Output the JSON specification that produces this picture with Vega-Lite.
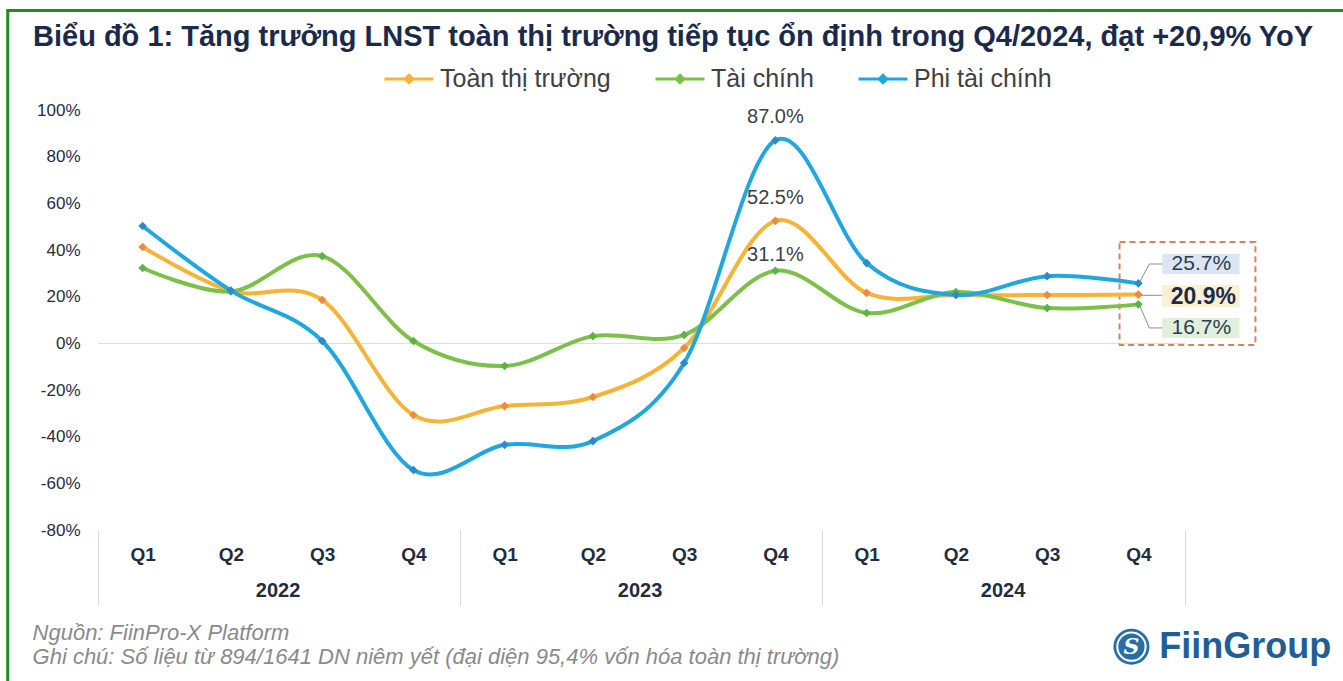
{
  "$schema": "https://vega.github.io/schema/vega-lite/v6.json",
  "width": 1087,
  "height": 420,
  "autosize": "none",
  "padding": {"left": 98, "top": 110, "right": 158, "bottom": 151},
  "background": "white",
  "config": {"view": {"stroke": null}, "font": "Liberation Sans"},
  "title": {
    "text": "Biểu đồ 1: Tăng trưởng LNST toàn thị trường tiếp tục ổn định trong Q4/2024, đạt +20,9% YoY",
    "anchor": "start", "frame": "group", "dx": -65, "offset": 6, "dy": 49,
    "fontSize": 29, "font": "Liberation Sans", "fontWeight": "bold", "color": "#1B2A4A"
  },
  "datasets": {
    "growth": [
      {"date": "2022-02-15", "series": "Toàn thị trường", "value": 0.413},
      {"date": "2022-05-15", "series": "Toàn thị trường", "value": 0.224},
      {"date": "2022-08-15", "series": "Toàn thị trường", "value": 0.186},
      {"date": "2022-11-15", "series": "Toàn thị trường", "value": -0.307},
      {"date": "2023-02-15", "series": "Toàn thị trường", "value": -0.269},
      {"date": "2023-05-15", "series": "Toàn thị trường", "value": -0.23},
      {"date": "2023-08-15", "series": "Toàn thị trường", "value": -0.02},
      {"date": "2023-11-15", "series": "Toàn thị trường", "value": 0.525},
      {"date": "2024-02-15", "series": "Toàn thị trường", "value": 0.216},
      {"date": "2024-05-15", "series": "Toàn thị trường", "value": 0.207},
      {"date": "2024-08-15", "series": "Toàn thị trường", "value": 0.207},
      {"date": "2024-11-15", "series": "Toàn thị trường", "value": 0.209},
      {"date": "2022-02-15", "series": "Tài chính", "value": 0.323},
      {"date": "2022-05-15", "series": "Tài chính", "value": 0.222},
      {"date": "2022-08-15", "series": "Tài chính", "value": 0.374},
      {"date": "2022-11-15", "series": "Tài chính", "value": 0.01},
      {"date": "2023-02-15", "series": "Tài chính", "value": -0.097},
      {"date": "2023-05-15", "series": "Tài chính", "value": 0.031},
      {"date": "2023-08-15", "series": "Tài chính", "value": 0.036},
      {"date": "2023-11-15", "series": "Tài chính", "value": 0.311},
      {"date": "2024-02-15", "series": "Tài chính", "value": 0.13},
      {"date": "2024-05-15", "series": "Tài chính", "value": 0.22},
      {"date": "2024-08-15", "series": "Tài chính", "value": 0.151},
      {"date": "2024-11-15", "series": "Tài chính", "value": 0.167},
      {"date": "2022-02-15", "series": "Phi tài chính", "value": 0.503},
      {"date": "2022-05-15", "series": "Phi tài chính", "value": 0.226},
      {"date": "2022-08-15", "series": "Phi tài chính", "value": 0.01},
      {"date": "2022-11-15", "series": "Phi tài chính", "value": -0.543},
      {"date": "2023-02-15", "series": "Phi tài chính", "value": -0.435},
      {"date": "2023-05-15", "series": "Phi tài chính", "value": -0.419},
      {"date": "2023-08-15", "series": "Phi tài chính", "value": -0.084},
      {"date": "2023-11-15", "series": "Phi tài chính", "value": 0.87},
      {"date": "2024-02-15", "series": "Phi tài chính", "value": 0.344},
      {"date": "2024-05-15", "series": "Phi tài chính", "value": 0.207},
      {"date": "2024-08-15", "series": "Phi tài chính", "value": 0.288},
      {"date": "2024-11-15", "series": "Phi tài chính", "value": 0.257}
    ]
  },
  "resolve": {"axis": {"x": "independent", "y": "independent"}},
  "layer": [
    {
      "data": {"values": [{}]},
      "mark": {"type": "rect", "fill": "transparent", "stroke": "#1E8C1E", "strokeWidth": 3},
      "encoding": {
        "x": {"datum": {"year": 2021, "month": 10, "date": 2}, "type": "temporal", "axis": null},
        "x2": {"datum": {"year": 2025, "month": 6, "date": 16}},
        "y": {"datum": 1.426, "type": "quantitative", "axis": null},
        "y2": {"datum": -1.49}
      }
    },
    {
      "data": {"values": [{}]},
      "mark": {"type": "rule", "color": "#D9D9D9", "strokeWidth": 1},
      "encoding": {"y": {"datum": 0, "type": "quantitative", "axis": null}}
    },
    {
      "data": {"values": [{}]},
      "mark": {"type": "rect", "fill": "transparent", "stroke": "#D9835C", "strokeWidth": 2, "strokeDash": [6, 4]},
      "encoding": {
        "x": {"datum": {"year": 2024, "month": 10, "date": 27}, "type": "temporal", "axis": null},
        "x2": {"datum": {"year": 2025, "month": 3, "date": 13}},
        "y": {"datum": 0.434, "type": "quantitative", "axis": null},
        "y2": {"datum": -0.007}
      }
    },
    {
      "data": {"values": [{}]},
      "mark": {"type": "rect", "fill": "#DCE6F2"},
      "encoding": {
        "x": {"datum": {"year": 2024, "month": 12, "date": 9}, "type": "temporal", "axis": null},
        "x2": {"datum": {"year": 2025, "month": 2, "date": 25}},
        "y": {"datum": 0.383, "type": "quantitative", "axis": null},
        "y2": {"datum": 0.297}
      }
    },
    {
      "data": {"values": [{}]},
      "mark": {"type": "rect", "fill": "#FCF0D2"},
      "encoding": {
        "x": {"datum": {"year": 2024, "month": 12, "date": 9}, "type": "temporal", "axis": null},
        "x2": {"datum": {"year": 2025, "month": 2, "date": 25}},
        "y": {"datum": 0.25, "type": "quantitative", "axis": null},
        "y2": {"datum": 0.156}
      }
    },
    {
      "data": {"values": [{}]},
      "mark": {"type": "rect", "fill": "#E2EFDA"},
      "encoding": {
        "x": {"datum": {"year": 2024, "month": 12, "date": 9}, "type": "temporal", "axis": null},
        "x2": {"datum": {"year": 2025, "month": 2, "date": 25}},
        "y": {"datum": 0.109, "type": "quantitative", "axis": null},
        "y2": {"datum": 0.023}
      }
    },
    {
      "data": {"values": [{}]},
      "mark": {"type": "rule", "color": "#8C8C8C", "strokeWidth": 1},
      "encoding": {
        "x": {"datum": {"year": 2024, "month": 11, "date": 16}, "type": "temporal", "axis": null},
        "x2": {"datum": {"year": 2024, "month": 11, "date": 26}},
        "y": {"datum": 0.26, "type": "quantitative", "axis": null},
        "y2": {"datum": 0.34}
      }
    },
    {
      "data": {"values": [{}]},
      "mark": {"type": "rule", "color": "#8C8C8C", "strokeWidth": 1},
      "encoding": {
        "x": {"datum": {"year": 2024, "month": 11, "date": 26}, "type": "temporal", "axis": null},
        "x2": {"datum": {"year": 2024, "month": 12, "date": 9}},
        "y": {"datum": 0.34, "type": "quantitative", "axis": null}
      }
    },
    {
      "data": {"values": [{}]},
      "mark": {"type": "rule", "color": "#8C8C8C", "strokeWidth": 1},
      "encoding": {
        "x": {"datum": {"year": 2024, "month": 11, "date": 16}, "type": "temporal", "axis": null},
        "x2": {"datum": {"year": 2024, "month": 12, "date": 9}},
        "y": {"datum": 0.206, "type": "quantitative", "axis": null}
      }
    },
    {
      "data": {"values": [{}]},
      "mark": {"type": "rule", "color": "#8C8C8C", "strokeWidth": 1},
      "encoding": {
        "x": {"datum": {"year": 2024, "month": 11, "date": 16}, "type": "temporal", "axis": null},
        "x2": {"datum": {"year": 2024, "month": 11, "date": 26}},
        "y": {"datum": 0.165, "type": "quantitative", "axis": null},
        "y2": {"datum": 0.066}
      }
    },
    {
      "data": {"values": [{}]},
      "mark": {"type": "rule", "color": "#8C8C8C", "strokeWidth": 1},
      "encoding": {
        "x": {"datum": {"year": 2024, "month": 11, "date": 26}, "type": "temporal", "axis": null},
        "x2": {"datum": {"year": 2024, "month": 12, "date": 9}},
        "y": {"datum": 0.066, "type": "quantitative", "axis": null}
      }
    },
    {
      "data": {"name": "growth", "format": {"parse": {"date": "date"}}},
      "mark": {"type": "line", "interpolate": "cardinal", "strokeWidth": 4},
      "encoding": {
        "x": {
          "field": "date", "type": "temporal",
          "scale": {"domain": [{"year": 2022, "month": 1, "date": 1}, {"year": 2025, "month": 1, "date": 1}]},
          "axis": {
            "orient": "bottom", "title": null, "domain": false, "ticks": false, "grid": false,
            "values": [
              {"year": 2022, "month": 2, "date": 15}, {"year": 2022, "month": 5, "date": 15}, {"year": 2022, "month": 8, "date": 15}, {"year": 2022, "month": 11, "date": 15},
              {"year": 2023, "month": 2, "date": 15}, {"year": 2023, "month": 5, "date": 15}, {"year": 2023, "month": 8, "date": 15}, {"year": 2023, "month": 11, "date": 15},
              {"year": 2024, "month": 2, "date": 15}, {"year": 2024, "month": 5, "date": 15}, {"year": 2024, "month": 8, "date": 15}, {"year": 2024, "month": 11, "date": 15}
            ],
            "labelExpr": "'Q' + quarter(datum.value)",
            "labelFont": "Liberation Sans Narrow, Liberation Sans", "labelFontWeight": "bold", "labelFontSize": 19,
            "labelColor": "#1F2D3D", "labelPadding": 15, "labelFlush": false, "labelOverlap": false, "labelBound": false
          }
        },
        "y": {
          "field": "value", "type": "quantitative",
          "scale": {"domain": [-0.8, 1.0], "nice": false, "zero": false},
          "axis": {
            "orient": "left", "title": null, "domain": false, "ticks": false, "grid": false,
            "values": [-0.8, -0.6, -0.4, -0.2, 0, 0.2, 0.4, 0.6, 0.8, 1.0],
            "format": ".0%",
            "labelExpr": "replace(datum.label, '\u2212', '-')",
            "labelFont": "Liberation Sans", "labelFontSize": 17, "labelColor": "#1F2D3D", "labelPadding": 18,
            "labelOverlap": false, "labelFlush": false
          }
        },
        "color": {
          "field": "series", "type": "nominal",
          "scale": {"domain": ["Toàn thị trường", "Tài chính", "Phi tài chính"], "range": ["#F6B436", "#7CC04A", "#1FA7DE"]},
          "legend": {
            "orient": "none", "legendX": 285, "legendY": -57, "direction": "horizontal", "title": null,
            "symbolType": "M-1,0L1,0M0,-0.15L0.15,0L0,0.15L-0.15,0Z", "symbolSize": 2400, "symbolStrokeWidth": 3,
            "labelFontSize": 25, "labelFont": "Liberation Sans", "labelColor": "#404040", "labelOffset": 5,
            "columnPadding": 38, "padding": 0, "labelLimit": 400
          }
        }
      }
    },
    {
      "data": {"name": "growth", "format": {"parse": {"date": "date"}}},
      "mark": {"type": "point", "shape": "diamond", "filled": true, "size": 75, "opacity": 1},
      "encoding": {
        "x": {
          "field": "date", "type": "temporal",
          "axis": {
            "orient": "bottom", "title": null, "domain": false, "ticks": false, "grid": false,
            "values": [{"year": 2022, "month": 7, "date": 1}, {"year": 2023, "month": 7, "date": 1}, {"year": 2024, "month": 7, "date": 1}],
            "labelExpr": "timeFormat(datum.value, '%Y')",
            "labelFont": "Liberation Sans Narrow, Liberation Sans", "labelFontWeight": "bold", "labelFontSize": 20,
            "labelColor": "#1F2D3D", "labelPadding": 50, "labelFlush": false, "labelOverlap": false, "labelBound": false
          }
        },
        "y": {"field": "value", "type": "quantitative", "axis": null},
        "fill": {
          "field": "series", "type": "nominal", "legend": null,
          "scale": {"domain": ["Toàn thị trường", "Tài chính", "Phi tài chính"], "range": ["#EE8A3C", "#5DB248", "#2C8ACB"]}
        }
      }
    },
    {
      "data": {"name": "growth", "format": {"parse": {"date": "date"}}},
      "transform": [{"filter": "year(datum.date) == 2023 && quarter(datum.date) == 4 && datum.series != 'Tài chính'"}],
      "mark": {"type": "text", "dy": -23, "fontSize": 20, "font": "Liberation Sans", "color": "#404040"},
      "encoding": {
        "x": {
          "field": "date", "type": "temporal",
          "axis": {
            "orient": "bottom", "title": null, "domain": false, "grid": false, "labels": false,
            "values": [{"year": 2022, "month": 1, "date": 1}, {"year": 2023, "month": 1, "date": 1}, {"year": 2024, "month": 1, "date": 1}, {"year": 2025, "month": 1, "date": 1}],
            "ticks": true, "tickSize": 75, "tickColor": "#D9D9D9", "tickWidth": 1
          }
        },
        "y": {"field": "value", "type": "quantitative", "axis": null},
        "text": {"field": "value", "type": "quantitative", "format": ".1%"}
      }
    },
    {
      "data": {"name": "growth", "format": {"parse": {"date": "date"}}},
      "transform": [{"filter": "year(datum.date) == 2023 && quarter(datum.date) == 4 && datum.series == 'Tài chính'"}],
      "mark": {"type": "text", "dy": -16, "fontSize": 20, "font": "Liberation Sans", "color": "#404040"},
      "encoding": {
        "x": {"field": "date", "type": "temporal", "axis": null},
        "y": {"field": "value", "type": "quantitative", "axis": null},
        "text": {"field": "value", "type": "quantitative", "format": ".1%"}
      }
    },
    {
      "data": {"name": "growth", "format": {"parse": {"date": "date"}}},
      "transform": [{"filter": "year(datum.date) == 2024 && quarter(datum.date) == 4 && datum.series == 'Phi tài chính'"}],
      "mark": {"type": "text", "dx": 63, "dy": -19, "fontSize": 21, "font": "Liberation Sans", "color": "#2B3A55"},
      "encoding": {
        "x": {"field": "date", "type": "temporal", "axis": null},
        "y": {"field": "value", "type": "quantitative", "axis": null},
        "text": {"field": "value", "type": "quantitative", "format": ".1%"}
      }
    },
    {
      "data": {"name": "growth", "format": {"parse": {"date": "date"}}},
      "transform": [{"filter": "year(datum.date) == 2024 && quarter(datum.date) == 4 && datum.series == 'Toàn thị trường'"}],
      "mark": {"type": "text", "dx": 65, "dy": 2, "fontSize": 23, "fontWeight": "bold", "font": "Liberation Sans", "color": "#1B2A4A"},
      "encoding": {
        "x": {"field": "date", "type": "temporal", "axis": null},
        "y": {"field": "value", "type": "quantitative", "axis": null},
        "text": {"field": "value", "type": "quantitative", "format": ".1%"}
      }
    },
    {
      "data": {"name": "growth", "format": {"parse": {"date": "date"}}},
      "transform": [{"filter": "year(datum.date) == 2024 && quarter(datum.date) == 4 && datum.series == 'Tài chính'"}],
      "mark": {"type": "text", "dx": 63, "dy": 24, "fontSize": 21, "font": "Liberation Sans", "color": "#2B3A55"},
      "encoding": {
        "x": {"field": "date", "type": "temporal", "axis": null},
        "y": {"field": "value", "type": "quantitative", "axis": null},
        "text": {"field": "value", "type": "quantitative", "format": ".1%"}
      }
    },
    {
      "data": {"values": [{}]},
      "mark": {"type": "point", "shape": "circle", "filled": true, "size": 1300, "color": "#2A6EA8", "opacity": 1},
      "encoding": {
        "x": {"datum": {"year": 2024, "month": 11, "date": 8}, "type": "temporal", "axis": null},
        "y": {"datum": -1.3, "type": "quantitative", "axis": null}
      }
    },
    {
      "data": {"values": [{}]},
      "mark": {"type": "point", "shape": "circle", "filled": false, "size": 800, "stroke": "white", "strokeWidth": 2, "opacity": 1},
      "encoding": {
        "x": {"datum": {"year": 2024, "month": 11, "date": 8}, "type": "temporal", "axis": null},
        "y": {"datum": -1.3, "type": "quantitative", "axis": null}
      }
    },
    {
      "data": {"values": [{}]},
      "mark": {"type": "text", "text": "S", "font": "DejaVu Serif", "fontWeight": "bold", "fontStyle": "italic", "fontSize": 22, "color": "white", "align": "center", "baseline": "middle"},
      "encoding": {
        "x": {"datum": {"year": 2024, "month": 11, "date": 8}, "type": "temporal", "axis": null},
        "y": {"datum": -1.3, "type": "quantitative", "axis": null}
      }
    },
    {
      "data": {"values": [{}]},
      "mark": {"type": "text", "text": "FiinGroup", "font": "Liberation Sans", "fontWeight": "bold", "fontSize": 36, "color": "#1F5F95", "align": "left", "baseline": "middle"},
      "encoding": {
        "x": {"datum": {"year": 2024, "month": 12, "date": 6}, "type": "temporal", "axis": null},
        "y": {"datum": -1.3, "type": "quantitative", "axis": null}
      }
    },
    {
      "data": {"values": [{}]},
      "mark": {"type": "text", "text": ["Nguồn: FiinPro-X Platform", "Ghi chú: Số liệu từ 894/1641 DN niêm yết (đại diện 95,4% vốn hóa toàn thị trường)"], "lineHeight": 24, "font": "Liberation Sans", "fontStyle": "italic", "fontSize": 22, "color": "#8A8A8A", "align": "left", "baseline": "middle"},
      "encoding": {
        "x": {"datum": {"year": 2021, "month": 10, "date": 27}, "type": "temporal", "axis": null},
        "y": {"datum": -1.242, "type": "quantitative", "axis": null}
      }
    }
  ]
}
